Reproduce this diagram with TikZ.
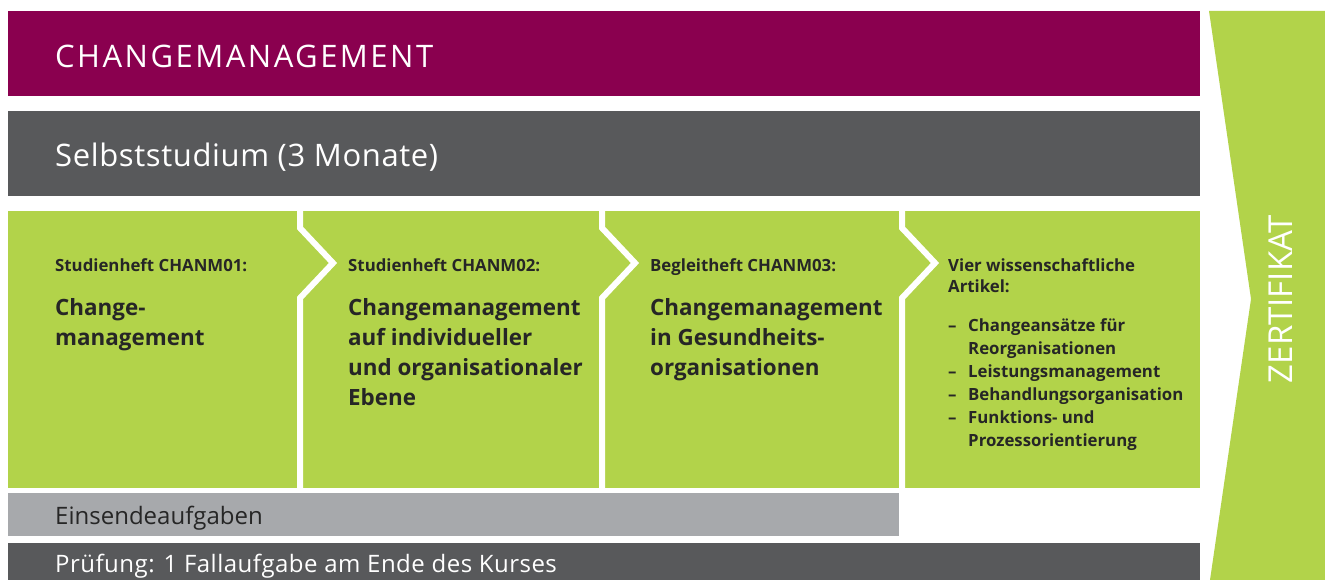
\documentclass[tikz,border=0pt]{standalone}
\usepackage{fontspec}
\setmainfont{Open Sans}
\usetikzlibrary{positioning}
\definecolor{changered}{HTML}{8A004F}
\definecolor{darkbar}{HTML}{58595B}
\definecolor{lightbar}{HTML}{A7A9AC}
\definecolor{leafgreen}{HTML}{B2D34A}
\definecolor{inktext}{HTML}{262626}
\tikzset{
  bar/.style={anchor=north west, inner sep=0pt, draw=none},
  bigtext/.style={anchor=west, inner sep=0pt, text=white, yshift=-3pt, font=\fontsize{31}{37}\selectfont},
  smalltext/.style={anchor=west, inner sep=0pt, font=\fontsize{24}{28}\selectfont},
  celllabel/.style={anchor=base west, inner sep=0pt, text=inktext, font=\bfseries\fontsize{16.8}{20}\selectfont},
  celltitle/.style={anchor=north west, inner sep=0pt, align=left, text=inktext, font=\bfseries\fontsize{22.4}{30}\selectfont},
  gap/.style={white, line width=6pt}
}
\begin{document}
\begin{tikzpicture}[x=1pt, y=-1pt]
            \useasboundingbox (0,0) rectangle (1325,580);
            % bars
            \node [bar, fill=changered, minimum width=1192pt, minimum height=85pt] (kurs) at (8,11) {};
            \node [bigtext, right=47pt of kurs.west] {\addfontfeature{LetterSpace=8}CHANGEMANAGEMENT};
            \node [bar, fill=darkbar, minimum width=1192pt, minimum height=85pt] (selbst) at (8,111) {};
            \node [bigtext, right=47pt of selbst.west] {\addfontfeature{LetterSpace=2}Selbststudium (3 Monate)};
            \node [bar, fill=leafgreen, minimum width=1192pt, minimum height=277pt] (module) at (8,211) {};
            \node [bar, fill=lightbar, minimum width=891pt, minimum height=43pt] (einsende) at (8,493) {};
            \node [smalltext, text=inktext, yshift=-3pt, right=47pt of einsende.west] {Einsendeaufgaben};
            \node [bar, fill=darkbar, minimum width=1192pt, minimum height=37pt] (pruefung) at (8,543) {};
            \node [smalltext, text=white, yshift=-4pt, right=47pt of pruefung.west] {\addfontfeature{LetterSpace=2}Prüfung: 1 Fallaufgabe am Ende des Kurses};
            % chevrons between the modules
            \draw [gap] (300,210)--(300,228)--(333,263)--(300,298)--(300,489);
            \draw [gap] (602,210)--(602,228)--(635,263)--(602,298)--(602,489);
            \draw [gap] (902,210)--(902,228)--(935,263)--(902,298)--(902,489);
            % module texts
            \node [celllabel] (lab1) at (55,271) {Studienheft CHANM01:};
            \node [celltitle] (tit1) at (55,298) {Change-\\management};
            \node [celllabel] (lab2) at (348,271) {Studienheft CHANM02:};
            \node [celltitle] (tit2) at (348,298) {Changemanagement\\auf individueller\\und organisationaler\\Ebene};
            \node [celllabel] (lab3) at (650,271) {Begleitheft CHANM03:};
            \node [celltitle] (tit3) at (650,298) {Changemanagement\\in Gesundheits-\\organisationen};
            \node [celllabel] (lab4) at (948,271) {Vier wissenschaftliche};
            \node [celllabel] (lab4b) at (948,292) {Artikel:};
            \node [celltitle, font=\bfseries\fontsize{16.8}{23}\selectfont] (list4) at (948,318)
              {\makebox[20pt][l]{–}Changeansätze für\\\hspace*{20pt}Reorganisationen\\
               \makebox[20pt][l]{–}Leistungsmanagement\\\makebox[20pt][l]{–}Behandlungsorganisation\\
               \makebox[20pt][l]{–}Funktions- und\\\hspace*{20pt}Prozessorientierung};
            % certificate
            \fill [leafgreen] (1209,11)--(1325,11)--(1325,580)--(1210,580)--(1251,299)--cycle;
            \node [rotate=90, text=white, inner sep=0pt, font=\fontsize{33}{38}\selectfont] (zert) at (1281,299) {ZERTIFIKAT};
        \end{tikzpicture}
\end{document}
